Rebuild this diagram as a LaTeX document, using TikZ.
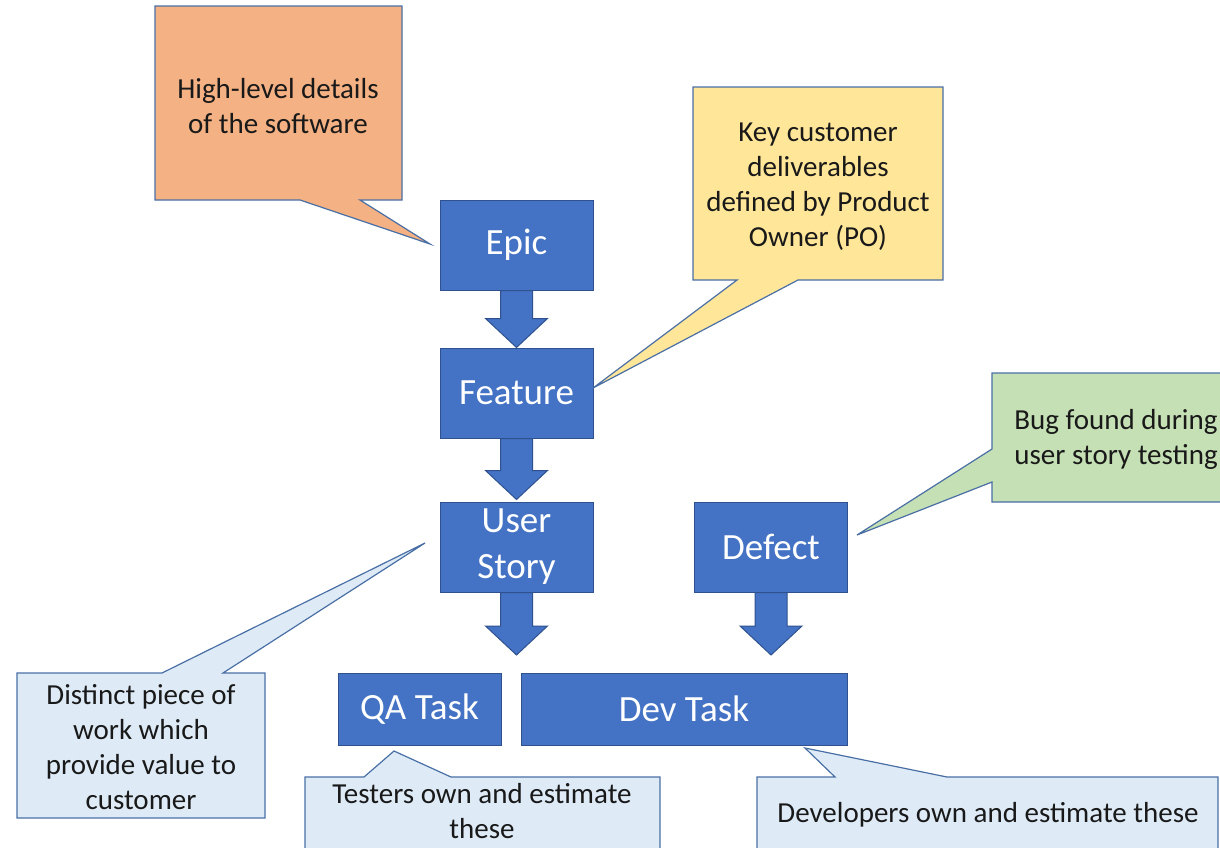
\documentclass[tikz,border=0pt]{standalone}
\usepackage{fontspec}
\setmainfont{Carlito}
\usetikzlibrary{calc}

\definecolor{itemblue}{HTML}{4472C4}
\definecolor{itemedge}{HTML}{2F528F}
\definecolor{noteedge}{HTML}{4A6FA5}
\definecolor{noteorange}{HTML}{F4B183}
\definecolor{noteyellow}{HTML}{FFE699}
\definecolor{notegreen}{HTML}{C5E0B4}
\definecolor{noteblue}{HTML}{DEEBF7}

\tikzset{
  item/.style={rectangle, draw=itemedge, fill=itemblue, text=white, line width=1pt,
    inner sep=0pt, align=center, font=\fontsize{37}{46}\selectfont},
  note/.style={draw=noteedge, line width=1.2pt, line join=miter},
  notetext/.style={align=center, text=black!90, font=\fontsize{29}{35}\selectfont},
  flow/.style={fill=itemblue, draw=itemedge, line width=1pt, line join=miter}
}

% block arrow from #1 down to tip #2
\newcommand{\flowarrow}[2]{%
  \filldraw[flow] let \p1=(#1), \p2=(#2) in
    (\x1-16pt,\y1) -- (\x1+16pt,\y1) -- (\x1+16pt,\y2+29pt) -- (\x1+31pt,\y2+29pt)
    -- (\x1,\y2) -- (\x1-31pt,\y2+29pt) -- (\x1-16pt,\y2+29pt) -- cycle;}

\begin{document}
\begin{tikzpicture}[x=1pt, y=-1pt]
\clip (0,0) rectangle (1220,847);
\fill[white] (0,0) rectangle (1220,847);

% work items
\begin{scope}[minimum height=90pt, minimum width=153pt]
  \node[item] (epic)    at (516.5,245) {Epic};
  \node[item] (feature) at (516.5,393) {Feature};
  \node[item] (story)   at (516.5,547) {User\\Story};
  \node[item] (defect)  at (771,547)   {Defect};
\end{scope}
\begin{scope}[minimum height=72pt]
  \node[item, minimum width=163pt] (qatask)  at (419.5,709) {QA Task};
  \node[item, minimum width=326pt] (devtask) at (684,709)   {Dev Task};
\end{scope}

\coordinate (storytip)  at (516.5,655);
\coordinate (defecttip) at (771,655);

\flowarrow{epic.south}{feature.north}
\flowarrow{feature.south}{$(story.north)+(0,-2)$}
\flowarrow{story.south}{storytip}
\flowarrow{defect.south}{defecttip}

% callouts
\coordinate (epicpin)    at (430,244);
\coordinate (featurepin) at (593,388);
\coordinate (defectpin)  at (857,535);
\coordinate (storypin)   at (425,543);
\coordinate (qapin)      at (394,751);
\coordinate (devpin)     at (805,748);

\filldraw[note, fill=noteorange] (155,6) -- (402,6) -- (402,200) -- (360,200)
  -- (epicpin) -- (300,200) -- (155,200) -- cycle;
\filldraw[note, fill=noteyellow] (693,87) -- (943,87) -- (943,280) -- (798,280)
  -- (featurepin) -- (737,280) -- (693,280) -- cycle;
\filldraw[note, fill=notegreen] (992,373) -- (1240,373) -- (1240,502) -- (992,502)
  -- (992,482) -- (defectpin) -- (992,449) -- cycle;
\filldraw[note, fill=noteblue] (17,673) -- (162,673) -- (storypin) -- (223,673)
  -- (265,673) -- (265,818) -- (17,818) -- cycle;
\filldraw[note, fill=noteblue] (305,777) -- (364,777) -- (qapin) -- (451,777)
  -- (660,777) -- (660,880) -- (305,880) -- cycle;
\filldraw[note, fill=noteblue] (757,777) -- (835,777) -- (devpin) -- (947,777)
  -- (1218,777) -- (1218,880) -- (757,880) -- cycle;

\node[notetext] (epicnote)    at (278,106)  {High-level details\\of the software};
\node[notetext] (featurenote) at (818,187)  {Key customer\\deliverables\\defined by Product\\Owner (PO)};
\node[notetext] (defectnote)  at (1116,439) {Bug found during\\user story testing};
\node[notetext] (storynote)   at (141,747)  {Distinct piece of\\work which\\provide value to\\customer};
\node[notetext] (qanote)      at (482,811)  {Testers own and estimate\\these};
\node[notetext] (devnote)     at (988,815)  {Developers own and estimate these};

\end{tikzpicture}
\end{document}
